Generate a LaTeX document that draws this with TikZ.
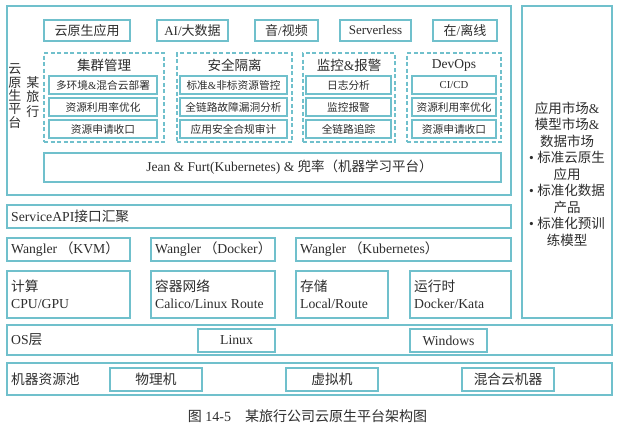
\documentclass[tikz,border=0pt]{standalone}
\usepackage{fontspec}
\setmainfont{Liberation Serif}
\newfontfamily\cjk{Noto Sans CJK SC}
\definecolor{bc}{RGB}{112,192,204}
\definecolor{tc}{RGB}{45,45,45}
\newcommand\lp{\hspace{2.5pt}{\cjk （}}
\newcommand\rp{{\cjk ）}}
\begin{document}
\begin{tikzpicture}[x=1pt,y=-1pt,
  sz/.style 2 args={minimum width=#1pt,minimum height=#2pt},
  box/.style={draw=bc,line width=1.2pt,inner sep=0pt,text=tc,font=\fontsize{13}{15}\selectfont},
  lbox/.style={box,font=\fontsize{13.7}{15}\selectfont},
  sbox/.style={box,line width=1.1pt,font=\fontsize{10.7}{12}\selectfont},
  grp/.style={draw=bc,line width=1.1pt,dash pattern=on 4pt off 2.5pt,inner sep=0pt},
  txt/.style={inner sep=0pt,text=tc,font=\fontsize{13}{15}\selectfont},
  ltxt/.style={txt,font=\fontsize{13.7}{15}\selectfont},
  ttl/.style={txt,font=\fontsize{13.5}{15}\selectfont}]
\useasboundingbox[fill=white] (0,0) rectangle (619,432);

% outer platform box
\node[box,sz={504}{189}] (outer) at (259,100.5) {};
\node[txt,align=center,font=\fontsize{13}{13.3}\selectfont\cjk] (lab1) at (15,96) {云\\原\\生\\平\\台};
\node[txt,align=center,font=\fontsize{13}{14.8}\selectfont\cjk] (lab2) at (33,97) {某\\旅\\行};

% top row
\node[box,sz={86}{21}] (app) at (87,30.5) {\cjk 云原生应用};
\node[box,sz={71}{21}] (ai) at (192.5,30.5) {AI/{\cjk 大数据}};
\node[box,sz={63}{21}] (av) at (286.5,30.5) {{\cjk 音}/{\cjk 视频}};
\node[box,sz={71}{21}] (sl) at (375.5,30.5) {Serverless};
\node[box,sz={64}{21}] (zx) at (465,30.5) {{\cjk 在}/{\cjk 离线}};

% groups
\node[grp,sz={120}{89}] (g1) at (104,97.5) {};
\node[grp,sz={115}{89}] (g2) at (234.5,97.5) {};
\node[grp,sz={92}{89}] (g3) at (349,97.5) {};
\node[grp,sz={94}{89}] (g4) at (454,97.5) {};
\node[ttl] (t1) at (104,65.5) {\cjk 集群管理};
\node[ttl] (t2) at (234.5,65.5) {\cjk 安全隔离};
\node[ttl] (t3) at (349,65.5) {{\cjk 监控}\&{\cjk 报警}};
\node[ttl] (t4) at (454,65.5) {DevOps};

\node[sbox,sz={108}{18}] (g1a) at (103,85) {{\cjk 多环境}\&{\cjk 混合云部署}};
\node[sbox,sz={108}{18}] (g1b) at (103,107) {\cjk 资源利用率优化};
\node[sbox,sz={108}{18}] (g1c) at (103,129) {\cjk 资源申请收口};
\node[sbox,sz={107}{18}] (g2a) at (233.5,85) {{\cjk 标准}\&{\cjk 非标资源管控}};
\node[sbox,sz={107}{18}] (g2b) at (233.5,107) {\cjk 全链路故障漏洞分析};
\node[sbox,sz={107}{18}] (g2c) at (233.5,129) {\cjk 应用安全合规审计};
\node[sbox,sz={85}{18}] (g3a) at (348.5,85) {\cjk 日志分析};
\node[sbox,sz={85}{18}] (g3b) at (348.5,107) {\cjk 监控报警};
\node[sbox,sz={85}{18}] (g3c) at (348.5,129) {\cjk 全链路追踪};
\node[sbox,sz={84}{18}] (g4a) at (454,85) {CI/CD};
\node[sbox,sz={84}{18}] (g4b) at (454,107) {\cjk 资源利用率优化};
\node[sbox,sz={84}{18}] (g4c) at (454,129) {\cjk 资源申请收口};

% Jean
\node[box,sz={457}{29}] (jean) at (272.5,167.5) {};
\node[txt,font=\fontsize{13.5}{15}\selectfont] (jeant) at (289.5,167.5) {Jean \& Furt(Kubernetes) \& {\cjk 兜率（机器学习平台）}};

% right market box
\node[box,sz={90}{312}] (mkt) at (567,162) {};
\node[txt,align=center,font=\fontsize{13.5}{16.5}\selectfont] (mktt) at (567,174)
  {{\cjk 应用市场}\&\\{\cjk 模型市场}\&\\{\cjk 数据市场}\\• {\cjk 标准云原生}\\{\cjk 应用}\\• {\cjk 标准化数据}\\{\cjk 产品}\\• {\cjk 标准化预训}\\{\cjk 练模型}};

% service api
\node[box,sz={504}{23}] (svc) at (259,216.5) {};
\node[ltxt,anchor=west] (svct) at (11,216.5) {ServiceAPI{\cjk 接口汇聚}};

% wangler row
\node[box,sz={123}{23}] (kvm) at (68.5,249.5) {};
\node[ltxt,anchor=west] (kvmt) at (11,249.5) {Wangler\lp KVM\rp};
\node[box,sz={124}{23}] (dock) at (213,249.5) {};
\node[ltxt,anchor=west] (dockt) at (155,249.5) {Wangler\lp Docker\rp};
\node[box,sz={215}{23}] (k8s) at (403.5,249.5) {};
\node[ltxt,anchor=west] (k8st) at (300,249.5) {Wangler\lp Kubernetes\rp};

% resource row
\node[box,sz={123}{47}] (cpu) at (68.5,294.5) {};
\node[ltxt,anchor=west,align=left,font=\fontsize{13.7}{17}\selectfont] (cput) at (11,294) {{\cjk 计算}\\CPU/GPU};
\node[box,sz={124}{47}] (net) at (213,294.5) {};
\node[ltxt,anchor=west,align=left,font=\fontsize{13.7}{17}\selectfont] (nett) at (155,294) {{\cjk 容器网络}\\Calico/Linux Route};
\node[box,sz={92}{47}] (sto) at (342,294.5) {};
\node[ltxt,anchor=west,align=left,font=\fontsize{13.7}{17}\selectfont] (stot) at (300,294) {{\cjk 存储}\\Local/Route};
\node[box,sz={101}{47}] (rt) at (460.5,294.5) {};
\node[ltxt,anchor=west,align=left,font=\fontsize{13.7}{17}\selectfont] (rtt) at (414,294) {{\cjk 运行时}\\Docker/Kata};

% OS row
\node[box,sz={605}{30}] (os) at (309.5,340) {};
\node[ltxt,anchor=west] (ost) at (11,340) {OS{\cjk 层}};
\node[lbox,sz={77}{23}] (linux) at (236.5,340.5) {Linux};
\node[lbox,sz={77}{23}] (win) at (448.5,340.5) {Windows};

% machine pool
\node[box,sz={605}{32}] (pool) at (309.5,379) {};
\node[ltxt,anchor=west] (poolt) at (11,379) {\cjk 机器资源池};
\node[lbox,sz={92}{23}] (phy) at (156,379.5) {\cjk 物理机};
\node[lbox,sz={92}{23}] (vm) at (332,379.5) {\cjk 虚拟机};
\node[lbox,sz={92}{23}] (hyb) at (508,379.5) {\cjk 混合云机器};

% caption
\node[txt,font=\fontsize{14}{16}\selectfont] (cap) at (307.5,416) {{\cjk 图} 14-5\quad{\cjk 某旅行公司云原生平台架构图}};
\end{tikzpicture}
\end{document}
